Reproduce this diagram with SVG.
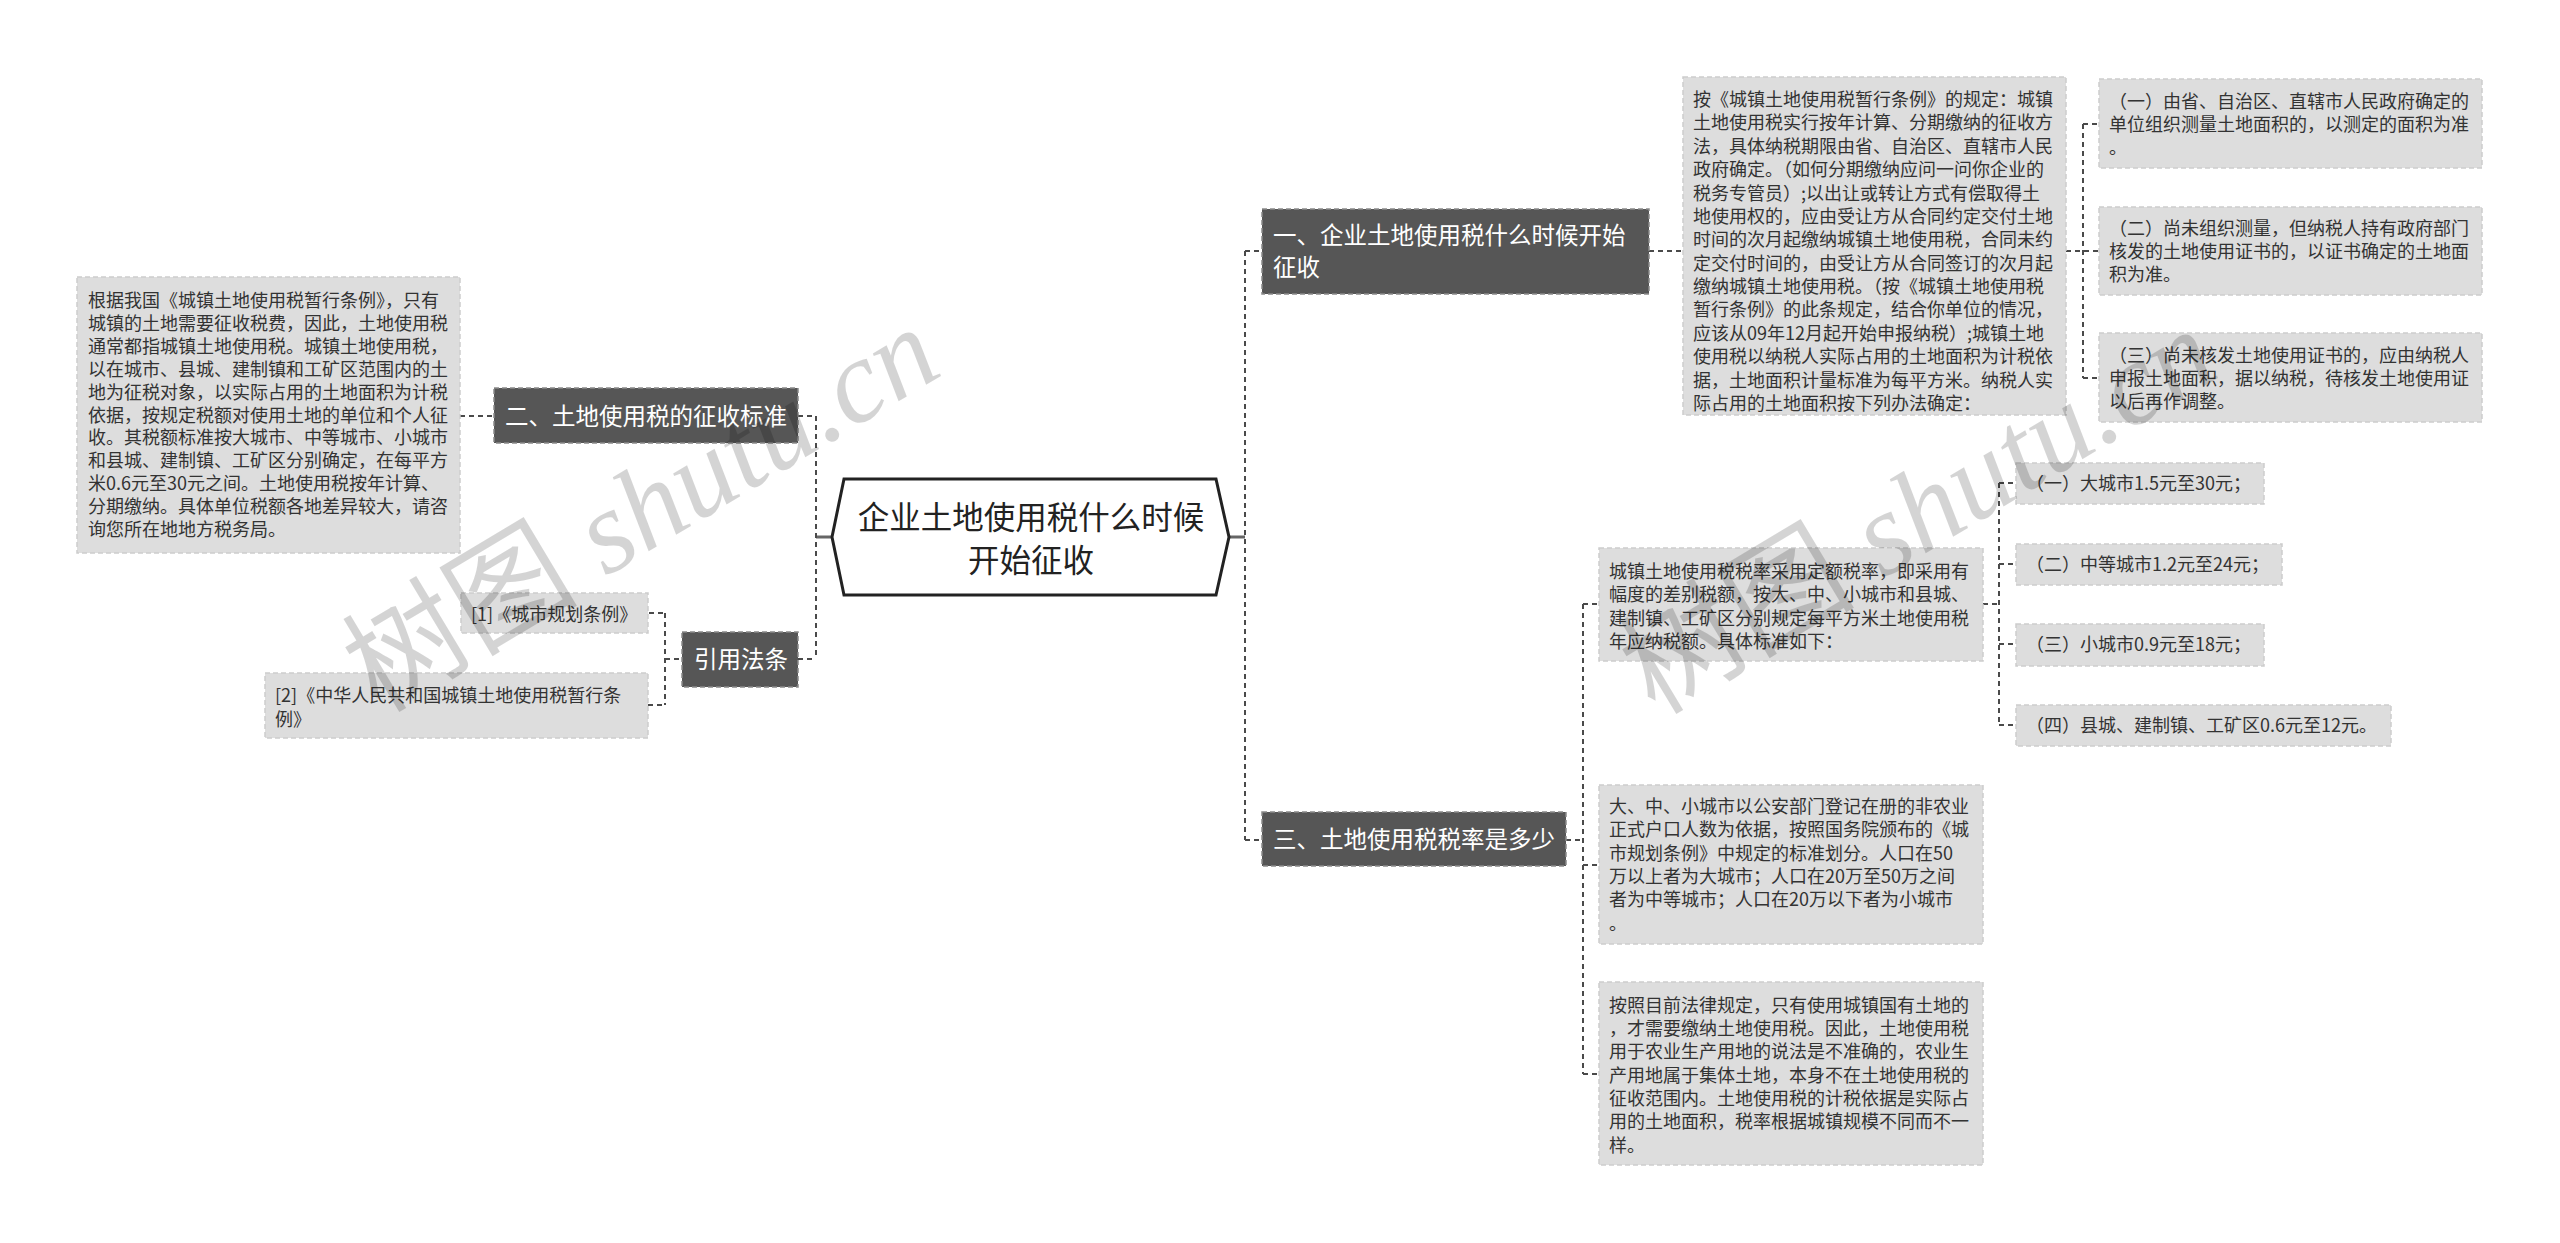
<svg xmlns="http://www.w3.org/2000/svg" width="2560" height="1243" viewBox="0 0 2560 1243">
<style>
text{font-family:"Noto Sans CJK SC","Noto Sans",sans-serif;}
.leaf{fill:#dddddd;stroke:#cdcdcd;stroke-width:1.5;stroke-dasharray:5 3;}
.branch{fill:#565656;stroke:#8a8a8a;stroke-width:1.5;stroke-dasharray:5 3;}
.lt{font-size:18px;fill:#333333;}
.bt{font-size:23.5px;fill:#ffffff;}
.ct{font-size:31.5px;fill:#222222;text-anchor:middle;}
.conn{fill:none;stroke:#4a4a4a;stroke-width:2;stroke-dasharray:5 4;}
.solid{fill:none;stroke:#666666;stroke-width:3;}
.wm{fill:#000000;fill-opacity:0.17;font-size:118px;}
</style>
<rect width="2560" height="1243" fill="#ffffff"/>
<g id="connectors">
<path class="solid" d="M816 537H832M1229 537H1245"/>
<path class="conn" d="M816 416V659M798 416H816M798 659H816"/>
<path class="conn" d="M460 416H494"/>
<path class="conn" d="M665 613V705M665 659H682M649 613H665M648 705H665"/>
<path class="conn" d="M1245 251V840M1245 251H1262M1245 840H1262"/>
<path class="conn" d="M1649 251H1683"/>
<path class="conn" d="M2083 124V378M2066 251H2099M2083 124H2099M2083 378H2099"/>
<path class="conn" d="M1583 604V1074M1566 840H1583M1583 604H1599M1583 865H1599M1583 1074H1599"/>
<path class="conn" d="M1999 483V725M1983 604H1999M1999 483H2016M1999 564H2016M1999 644H2016M1999 725H2016"/>
</g>
<g id="root">
<polygon points="832,537 844,479 1216,479 1229,537 1216,595 844,595" fill="#ffffff" stroke="#222222" stroke-width="3"/>
<text class="ct"><tspan x="1031" y="529">企业土地使用税什么时候</tspan><tspan x="1031" y="572">开始征收</tspan></text>
</g>
<g id="n2">
<rect class="branch" x="494" y="388" width="304" height="55"/>
<text class="bt" x="505" y="425">二、土地使用税的征收标准</text>
</g>
<g id="n2a">
<rect class="leaf" x="77" y="277" width="383" height="276"/>
<text class="lt">
<tspan x="88" y="307">根据我国《城镇土地使用税暂行条例》，只有</tspan>
<tspan x="88" y="330">城镇的土地需要征收税费，因此，土地使用税</tspan>
<tspan x="88" y="353">通常都指城镇土地使用税。城镇土地使用税，</tspan>
<tspan x="88" y="376">以在城市、县城、建制镇和工矿区范围内的土</tspan>
<tspan x="88" y="399">地为征税对象，以实际占用的土地面积为计税</tspan>
<tspan x="88" y="422">依据，按规定税额对使用土地的单位和个人征</tspan>
<tspan x="88" y="444">收。其税额标准按大城市、中等城市、小城市</tspan>
<tspan x="88" y="467">和县城、建制镇、工矿区分别确定，在每平方</tspan>
<tspan x="88" y="490">米0.6元至30元之间。土地使用税按年计算、</tspan>
<tspan x="88" y="513">分期缴纳。具体单位税额各地差异较大，请咨</tspan>
<tspan x="88" y="536">询您所在地地方税务局。</tspan>
</text>
</g>
<g id="n4">
<rect class="branch" x="682" y="632" width="116" height="55"/>
<text class="bt" x="694" y="668">引用法条</text>
</g>
<g id="n4a">
<rect class="leaf" x="461" y="593" width="187" height="40"/>
<text class="lt" x="471" y="621">[1]《城市规划条例》</text>
</g>
<g id="n4b">
<rect class="leaf" x="265" y="673" width="383" height="65"/>
<text class="lt"><tspan x="275" y="702">[2]《中华人民共和国城镇土地使用税暂行条</tspan><tspan x="275" y="726">例》</tspan></text>
</g>
<g id="n1">
<rect class="branch" x="1262" y="209" width="387" height="85"/>
<text class="bt"><tspan x="1273" y="244">一、企业土地使用税什么时候开始</tspan><tspan x="1273" y="276">征收</tspan></text>
</g>
<g id="n1a">
<rect class="leaf" x="1683" y="77" width="383" height="338"/>
<text class="lt">
<tspan x="1693" y="106">按《城镇土地使用税暂行条例》的规定：城镇</tspan>
<tspan x="1693" y="129.4">土地使用税实行按年计算、分期缴纳的征收方</tspan>
<tspan x="1693" y="152.8">法，具体纳税期限由省、自治区、直辖市人民</tspan>
<tspan x="1693" y="176.1">政府确定。（如何分期缴纳应问一问你企业的</tspan>
<tspan x="1693" y="199.5">税务专管员）;以出让或转让方式有偿取得土</tspan>
<tspan x="1693" y="222.9">地使用权的，应由受让方从合同约定交付土地</tspan>
<tspan x="1693" y="246.3">时间的次月起缴纳城镇土地使用税，合同未约</tspan>
<tspan x="1693" y="269.7">定交付时间的，由受让方从合同签订的次月起</tspan>
<tspan x="1693" y="293">缴纳城镇土地使用税。（按《城镇土地使用税</tspan>
<tspan x="1693" y="316.4">暂行条例》的此条规定，结合你单位的情况，</tspan>
<tspan x="1693" y="339.8">应该从09年12月起开始申报纳税）;城镇土地</tspan>
<tspan x="1693" y="363.2">使用税以纳税人实际占用的土地面积为计税依</tspan>
<tspan x="1693" y="386.6">据，土地面积计量标准为每平方米。纳税人实</tspan>
<tspan x="1693" y="410">际占用的土地面积按下列办法确定：</tspan>
</text>
</g>
<g id="n1a1">
<rect class="leaf" x="2099" y="79" width="383" height="89"/>
<text class="lt"><tspan x="2109" y="108">（一）由省、自治区、直辖市人民政府确定的</tspan><tspan x="2109" y="131">单位组织测量土地面积的，以测定的面积为准</tspan><tspan x="2109" y="154">。</tspan></text>
</g>
<g id="n1a2">
<rect class="leaf" x="2099" y="207" width="383" height="88"/>
<text class="lt"><tspan x="2109" y="235">（二）尚未组织测量，但纳税人持有政府部门</tspan><tspan x="2109" y="258">核发的土地使用证书的，以证书确定的土地面</tspan><tspan x="2109" y="281">积为准。</tspan></text>
</g>
<g id="n1a3">
<rect class="leaf" x="2099" y="333" width="383" height="89"/>
<text class="lt"><tspan x="2109" y="362">（三）尚未核发土地使用证书的，应由纳税人</tspan><tspan x="2109" y="385">申报土地面积，据以纳税，待核发土地使用证</tspan><tspan x="2109" y="408">以后再作调整。</tspan></text>
</g>
<g id="n3">
<rect class="branch" x="1262" y="812" width="304" height="54"/>
<text class="bt" x="1273" y="848">三、土地使用税税率是多少</text>
</g>
<g id="n3a">
<rect class="leaf" x="1599" y="548" width="384" height="113"/>
<text class="lt"><tspan x="1609" y="577.5">城镇土地使用税税率采用定额税率，即采用有</tspan><tspan x="1609" y="601">幅度的差别税额，按大、中、小城市和县城、</tspan><tspan x="1609" y="624.5">建制镇、工矿区分别规定每平方米土地使用税</tspan><tspan x="1609" y="648">年应纳税额。具体标准如下：</tspan></text>
</g>
<g id="n3a1">
<rect class="leaf" x="2016" y="463" width="248" height="41"/>
<text class="lt" x="2026" y="490">（一）大城市1.5元至30元；</text>
</g>
<g id="n3a2">
<rect class="leaf" x="2016" y="544" width="266" height="41"/>
<text class="lt" x="2026" y="571">（二）中等城市1.2元至24元；</text>
</g>
<g id="n3a3">
<rect class="leaf" x="2016" y="624" width="248" height="42"/>
<text class="lt" x="2026" y="651">（三）小城市0.9元至18元；</text>
</g>
<g id="n3a4">
<rect class="leaf" x="2016" y="705" width="375" height="41"/>
<text class="lt" x="2026" y="732">（四）县城、建制镇、工矿区0.6元至12元。</text>
</g>
<g id="n3b">
<rect class="leaf" x="1599" y="785" width="384" height="159"/>
<text class="lt">
<tspan x="1609" y="813">大、中、小城市以公安部门登记在册的非农业</tspan>
<tspan x="1609" y="836.3">正式户口人数为依据，按照国务院颁布的《城</tspan>
<tspan x="1609" y="859.7">市规划条例》中规定的标准划分。人口在50</tspan>
<tspan x="1609" y="883">万以上者为大城市；人口在20万至50万之间</tspan>
<tspan x="1609" y="906.3">者为中等城市；人口在20万以下者为小城市</tspan>
<tspan x="1609" y="929.7">。</tspan>
</text>
</g>
<g id="n3c">
<rect class="leaf" x="1599" y="982" width="384" height="183"/>
<text class="lt">
<tspan x="1609" y="1011.5">按照目前法律规定，只有使用城镇国有土地的</tspan>
<tspan x="1609" y="1034.8">，才需要缴纳土地使用税。因此，土地使用税</tspan>
<tspan x="1609" y="1058.2">用于农业生产用地的说法是不准确的，农业生</tspan>
<tspan x="1609" y="1081.5">产用地属于集体土地，本身不在土地使用税的</tspan>
<tspan x="1609" y="1104.8">征收范围内。土地使用税的计税依据是实际占</tspan>
<tspan x="1609" y="1128.2">用的土地面积，税率根据城镇规模不同而不一</tspan>
<tspan x="1609" y="1151.5">样。</tspan>
</text>
</g>
<g id="watermarks">
<text class="wm" x="378" y="714" transform="rotate(-31 378 714)"><tspan>树图</tspan><tspan font-family="Liberation Serif" font-style="italic"> shutu.cn</tspan></text>
<text class="wm" x="1655" y="716" transform="rotate(-31 1655 716)"><tspan>树图</tspan><tspan font-family="Liberation Serif" font-style="italic"> shutu.cn</tspan></text>
</g>
</svg>
